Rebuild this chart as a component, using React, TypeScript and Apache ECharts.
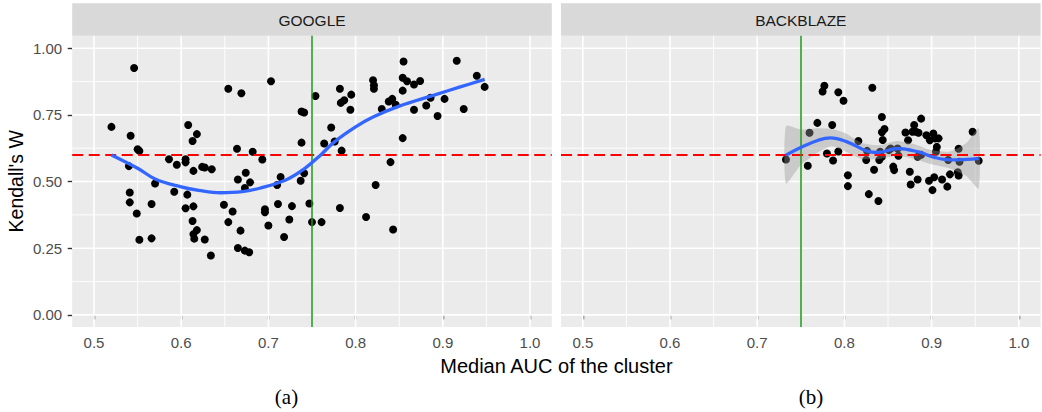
import React, { useEffect, useRef } from "react";
import * as echarts from "echarts";

// ---------- data ----------
const facetNames = ["GOOGLE", "BACKBLAZE"];
const panelLabels = ["(a)", "(b)"];
const xAxisTitle = "Median AUC of the cluster";
const yAxisTitle = "Kendall's W";

const xTicks = [0.5, 0.6, 0.7, 0.8, 0.9, 1.0];
const xTickLabels = ["0.5", "0.6", "0.7", "0.8", "0.9", "1.0"];
const xMinor = [0.55, 0.65, 0.75, 0.85, 0.95];
const yTicks = [0, 0.25, 0.5, 0.75, 1.0];
const yTickLabels = ["0.00", "0.25", "0.50", "0.75", "1.00"];
const yMinor = [0.125, 0.375, 0.625, 0.875];

const thresholdW = 0.6;
const thresholdAUC = 0.75;

const googleX = [
  0.546, 0.52, 0.542, 0.55, 0.552, 0.54, 0.586, 0.595, 0.605, 0.605, 0.608, 0.618, 0.613, 0.614, 0.624, 0.627,
  0.635, 0.654, 0.669, 0.703, 0.664, 0.682, 0.693, 0.665, 0.674, 0.679, 0.673, 0.714, 0.71, 0.738, 0.741, 0.754,
  0.738, 0.741, 0.737, 0.57, 0.592, 0.607, 0.541, 0.541, 0.549, 0.566, 0.552, 0.566, 0.605, 0.614, 0.613, 0.618,
  0.614, 0.615, 0.627, 0.634, 0.649, 0.659, 0.654, 0.668, 0.665, 0.673, 0.678, 0.696, 0.696, 0.7, 0.711, 0.727,
  0.724, 0.718, 0.747, 0.75, 0.761, 0.782, 0.812, 0.823, 0.843, 0.772, 0.764, 0.776, 0.784, 0.782, 0.783, 0.787,
  0.795, 0.794, 0.82, 0.821, 0.821, 0.83, 0.838, 0.842, 0.846, 0.84, 0.854, 0.854, 0.855, 0.854, 0.859, 0.867,
  0.874, 0.867, 0.881, 0.886, 0.894, 0.902, 0.916, 0.924, 0.939, 0.948,
];
const googleY = [
  0.926, 0.705, 0.672, 0.621, 0.615, 0.558, 0.584, 0.563, 0.584, 0.572, 0.712, 0.678, 0.652, 0.54, 0.555, 0.553,
  0.546, 0.848, 0.831, 0.876, 0.623, 0.612, 0.583, 0.508, 0.533, 0.497, 0.476, 0.517, 0.487, 0.763, 0.759, 0.821,
  0.646, 0.531, 0.503, 0.493, 0.462, 0.451, 0.459, 0.422, 0.38, 0.416, 0.282, 0.287, 0.4, 0.407, 0.352, 0.318,
  0.303, 0.286, 0.283, 0.223, 0.413, 0.388, 0.348, 0.316, 0.251, 0.241, 0.235, 0.396, 0.385, 0.335, 0.416, 0.408,
  0.358, 0.292, 0.418, 0.348, 0.348, 0.401, 0.367, 0.487, 0.32, 0.703, 0.643, 0.65, 0.616, 0.848, 0.795, 0.805,
  0.826, 0.769, 0.88, 0.848, 0.861, 0.772, 0.8, 0.81, 0.788, 0.573, 0.663, 0.841, 0.95, 0.889, 0.876, 0.864,
  0.877, 0.769, 0.785, 0.814, 0.746, 0.81, 0.953, 0.772, 0.897, 0.855,
];

const backblazeX = [
  0.733, 0.758, 0.76, 0.769, 0.775, 0.777, 0.78, 0.787, 0.786, 0.793, 0.799, 0.793, 0.804, 0.804, 0.816, 0.825,
  0.826, 0.828, 0.832, 0.834, 0.839, 0.843, 0.843, 0.846, 0.844, 0.84, 0.843, 0.856, 0.857, 0.861, 0.862, 0.853,
  0.87, 0.873, 0.88, 0.882, 0.885, 0.888, 0.875, 0.876, 0.884, 0.884, 0.894, 0.898, 0.902, 0.904, 0.908, 0.906,
  0.905, 0.897, 0.903, 0.901, 0.912, 0.918, 0.921, 0.93, 0.931, 0.931, 0.932, 0.919, 0.947, 0.954, 0.851, 0.841,
  0.888, 0.878,
];
const backblazeY = [
  0.583, 0.559, 0.683, 0.72, 0.838, 0.859, 0.605, 0.579, 0.712, 0.835, 0.803, 0.613, 0.524, 0.483, 0.652, 0.581,
  0.615, 0.453, 0.852, 0.544, 0.427, 0.742, 0.685, 0.697, 0.656, 0.581, 0.593, 0.556, 0.543, 0.624, 0.597, 0.624,
  0.684, 0.655, 0.712, 0.687, 0.683, 0.736, 0.537, 0.489, 0.508, 0.593, 0.674, 0.655, 0.68, 0.662, 0.662, 0.63,
  0.612, 0.503, 0.516, 0.468, 0.508, 0.481, 0.527, 0.535, 0.523, 0.623, 0.574, 0.581, 0.687, 0.578, 0.618, 0.612,
  0.6, 0.687,
];

const googleFitX = [0.52, 0.55, 0.57, 0.6, 0.62, 0.645, 0.67, 0.69, 0.72, 0.74, 0.76, 0.775, 0.8, 0.82, 0.85, 0.89, 0.92, 0.948];
const googleFitY = [0.6, 0.55, 0.51, 0.48, 0.467, 0.458, 0.462, 0.475, 0.506, 0.545, 0.6, 0.647, 0.705, 0.742, 0.783, 0.824, 0.855, 0.883];

const backblazeFitX = [0.733, 0.75, 0.77, 0.784, 0.803, 0.826, 0.838, 0.861, 0.884, 0.903, 0.922, 0.941, 0.954];
const backblazeFitY = [0.599, 0.628, 0.655, 0.664, 0.649, 0.614, 0.609, 0.624, 0.612, 0.591, 0.581, 0.583, 0.587];

const backblazeBandX = [0.733, 0.75, 0.77, 0.785, 0.8, 0.82, 0.84, 0.86, 0.88, 0.9, 0.92, 0.94, 0.954];
const backblazeBandLo = [0.493, 0.562, 0.61, 0.632, 0.615, 0.585, 0.585, 0.597, 0.585, 0.565, 0.55, 0.52, 0.474];
const backblazeBandHi = [0.708, 0.695, 0.7, 0.697, 0.683, 0.645, 0.636, 0.652, 0.64, 0.618, 0.612, 0.645, 0.699];

// ---------- layout / style ----------
const W = 1042;
const H = 412;
const PANEL_TOP = 35.7;
const PANEL_H = 291.2;
const PANEL_W = 479.6;
const PANEL_LEFTS = [72.2, 561];
const STRIP_TOP = 3.3;
const SANS = '"Liberation Sans", Arial, sans-serif';
const SERIF = '"Liberation Serif", "DejaVu Serif", serif';

const zip = (xs: number[], ys: number[]) => xs.map((x, i) => [x, ys[i]]);

const closestLabel = (v: number, ticks: number[], labels: string[]) => {
  let best = 0;
  for (let i = 1; i < ticks.length; i++) if (Math.abs(ticks[i] - v) < Math.abs(ticks[best] - v)) best = i;
  return Math.abs(ticks[best] - v) < 1e-6 ? labels[best] : "";
};

function gridLineSeries(g: number) {
  const data: number[][] = [];
  xMinor.forEach((v) => data.push([v, 0, 0]));
  yMinor.forEach((v) => data.push([v, 1, 0]));
  xTicks.forEach((v) => data.push([v, 0, 1]));
  yTicks.forEach((v) => data.push([v, 1, 1]));
  return {
    type: "custom",
    xAxisIndex: g,
    yAxisIndex: g,
    z: 1,
    silent: true,
    clip: false,
    encode: { x: 0, y: 0 },
    data,
    renderItem: (params: any, api: any) => {
      const cs = params.coordSys;
      const v = api.value(0);
      const o = api.value(1);
      const w = api.value(2) ? 1.6 : 0.9;
      if (o === 0) {
        const p = api.coord([v, 0.5]);
        return { type: "line", shape: { x1: p[0], y1: cs.y, x2: p[0], y2: cs.y + cs.height }, style: { stroke: "#ffffff", lineWidth: w } };
      }
      const p = api.coord([0.75, v]);
      return { type: "line", shape: { x1: cs.x, y1: p[1], x2: cs.x + cs.width, y2: p[1] }, style: { stroke: "#ffffff", lineWidth: w } };
    },
  };
}

const refLines = {
  silent: true,
  symbol: ["none", "none"],
  label: { show: false },
  emphasis: { disabled: true },
  animation: false,
  data: [
    { yAxis: thresholdW, lineStyle: { color: "#ff0000", width: 2, type: [11, 5.5], opacity: 1 } },
    { xAxis: thresholdAUC, lineStyle: { color: "#1a9a1a", width: 1.5, type: "solid", opacity: 1 } },
  ],
};

function buildOption() {
  const xAxis = [0, 1].map((g) => ({
    type: "value",
    gridIndex: g,
    min: 0.475,
    max: 1.025,
    axisLine: { show: false },
    splitLine: { show: false },
    axisTick: { show: true, length: 4.5, customValues: xTicks, lineStyle: { color: "#333333", width: 1.4 } },
    axisLabel: {
      show: true,
      customValues: xTicks,
      formatter: (v: number) => closestLabel(v, xTicks, xTickLabels),
      color: "#4d4d4d",
      fontSize: 15,
      fontFamily: SANS,
      margin: 8,
    },
  }));
  const yAxis = [0, 1].map((g) => ({
    type: "value",
    gridIndex: g,
    min: -0.045,
    max: 1.047,
    axisLine: { show: false },
    splitLine: { show: false },
    axisTick: { show: g === 0, length: 4.5, customValues: yTicks, lineStyle: { color: "#333333", width: 1.4 } },
    axisLabel: {
      show: g === 0,
      customValues: yTicks,
      formatter: (v: number) => closestLabel(v, yTicks, yTickLabels),
      color: "#4d4d4d",
      fontSize: 15,
      fontFamily: SANS,
      margin: 10,
    },
  }));

  const graphic: any[] = [];
  PANEL_LEFTS.forEach((l, i) => {
    graphic.push({
      type: "rect",
      shape: { x: l, y: STRIP_TOP, width: PANEL_W, height: PANEL_TOP - STRIP_TOP },
      style: { fill: "#d9d9d9" },
      silent: true,
    });
    graphic.push({
      type: "text",
      x: l + PANEL_W / 2,
      y: (STRIP_TOP + PANEL_TOP) / 2 + 0.5,
      style: { text: facetNames[i], fill: "#1a1a1a", fontSize: 15.5, fontFamily: SANS, align: "center", verticalAlign: "middle" },
      silent: true,
    });
  });
  graphic.push({
    type: "text",
    x: (PANEL_LEFTS[0] + PANEL_LEFTS[1] + PANEL_W) / 2,
    y: 366,
    style: { text: xAxisTitle, fill: "#000000", fontSize: 20, fontFamily: SANS, align: "center", verticalAlign: "middle" },
    silent: true,
  });
  graphic.push({
    type: "text",
    x: 16,
    y: PANEL_TOP + PANEL_H / 2,
    rotation: Math.PI / 2,
    style: { text: yAxisTitle, fill: "#000000", fontSize: 19.5, fontFamily: SANS, align: "center", verticalAlign: "middle" },
    silent: true,
  });
  [286.5, 811].forEach((cx, i) => {
    graphic.push({
      type: "text",
      x: cx,
      y: 397,
      style: { text: panelLabels[i], fill: "#000000", fontSize: 21, fontFamily: SERIF, align: "center", verticalAlign: "middle" },
      silent: true,
    });
  });

  return {
    animation: false,
    backgroundColor: "#ffffff",
    grid: PANEL_LEFTS.map((l) => ({
      left: l,
      top: PANEL_TOP,
      width: PANEL_W,
      height: PANEL_H,
      show: true,
      backgroundColor: "#ebebeb",
      borderWidth: 0,
      containLabel: false,
    })),
    xAxis,
    yAxis,
    graphic,
    series: [
      gridLineSeries(0),
      gridLineSeries(1),
      {
        type: "scatter",
        xAxisIndex: 0,
        yAxisIndex: 0,
        data: zip(googleX, googleY),
        symbolSize: 8,
        itemStyle: { color: "#000000", opacity: 1 },
        z: 3,
        silent: true,
      },
      {
        type: "scatter",
        xAxisIndex: 1,
        yAxisIndex: 1,
        data: zip(backblazeX, backblazeY),
        symbolSize: 8,
        itemStyle: { color: "#000000", opacity: 1 },
        z: 3,
        silent: true,
      },
      {
        type: "custom",
        xAxisIndex: 1,
        yAxisIndex: 1,
        z: 4,
        silent: true,
        data: [[backblazeBandX[0], backblazeBandLo[0]]],
        renderItem: (params: any, api: any) => {
          const pts: number[][] = [];
          for (let i = 0; i < backblazeBandX.length; i++) pts.push(api.coord([backblazeBandX[i], backblazeBandHi[i]]));
          for (let i = backblazeBandX.length - 1; i >= 0; i--) pts.push(api.coord([backblazeBandX[i], backblazeBandLo[i]]));
          return { type: "polygon", shape: { points: pts, smooth: 0.2 }, style: { fill: "rgba(153,153,153,0.4)" } };
        },
      },
      {
        type: "line",
        xAxisIndex: 0,
        yAxisIndex: 0,
        data: zip(googleFitX, googleFitY),
        smooth: 0.4,
        symbol: "none",
        showSymbol: false,
        lineStyle: { color: "#3366ff", width: 3.3 },
        z: 5,
        silent: true,
        markLine: refLines,
      },
      {
        type: "line",
        xAxisIndex: 1,
        yAxisIndex: 1,
        data: zip(backblazeFitX, backblazeFitY),
        smooth: 0.4,
        symbol: "none",
        showSymbol: false,
        lineStyle: { color: "#3366ff", width: 3.3 },
        z: 5,
        silent: true,
        markLine: refLines,
      },
    ],
  };
}

export default function App() {
  const ref = useRef<HTMLDivElement>(null);
  useEffect(() => {
    if (!ref.current) return;
    const chart = echarts.init(ref.current, undefined, { renderer: "svg" });
    chart.setOption(buildOption() as any);
    return () => chart.dispose();
  }, []);
  return <div ref={ref} style={{ position: "fixed", left: 0, top: 0, width: W, height: H, background: "#ffffff" }} />;
}
